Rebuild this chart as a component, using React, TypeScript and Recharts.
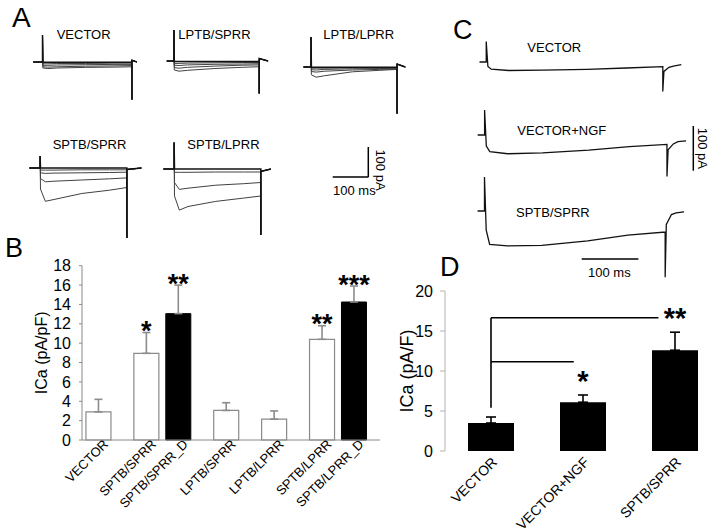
import React from "react"
import { BarChart, Bar, XAxis, YAxis, Cell, ErrorBar, LabelList, Label, ReferenceLine, LineChart, Line } from "recharts"

const FONT = "'Liberation Sans', Arial, Helvetica, sans-serif"

// ---- panel B: ICa density, all constructs
const bNames = ["VECTOR", "SPTB/SPRR", "SPTB/SPRR_D", "LPTB/SPRR", "LPTB/LPRR", "SPTB/LPRR", "SPTB/LPRR_D"]
const bSlot = [1, 4, 6, 9, 12, 15, 17] // category slots, grouped pairs sit closer
const bMean = [2.9, 8.95, 13.05, 3.05, 2.15, 10.4, 14.25]
const bSem = [1.3, 2.15, 2.95, 0.8, 0.85, 1.4, 1.65]
const bStars = ["", "*", "**", "", "", "**", "***"]
const bTicks = [0, 2, 4, 6, 8, 10, 12, 14, 16, 18]

// ---- panel D: NGF comparison
const dNames = ["VECTOR", "VECTOR+NGF", "SPTB/SPRR"]
const dMean = [3.5, 6.1, 12.6]
const dSem = [0.75, 0.9, 2.25]
const dStars = ["", "*", "**"]
const dTicks = [0, 5, 10, 15, 20]
// bracket: stem on VECTOR, arms to the compared bars (x in category units 0..3)
const dStem = { x: 0.5, from: 5.4, to: 16.65 }
const dArms = [
  { to: 2.32, y: 16.65 },
  { to: 1.4, y: 11.15 },
]

// ---- panel A traces (ms, pA); first sweep is the holding/baseline one
const aVectorT = [-26, 0, 0, 1, 15, 40, 120, 200, 250, 250, 250, 264]
const aVector = [
  [0, 0, 90, -1, -1, -1, -1, -1, -1, -125, 6, 0],
  [0, 0, 90, -6, -6, -5, -5, -4, -4, -125, 6, 0],
  [0, 0, 90, -11, -11, -10, -9, -8, -8, -125, 6, 0],
  [0, 0, 90, -16, -17, -16, -14, -13, -12, -125, 6, 0],
  [0, 0, 90, -20, -22, -20, -18, -17, -16, -125, 6, 0],
]
const aLsT = [-21, 0, 0, 1, 15, 40, 120, 200, 250, 250, 250, 276]
const aLs = [
  [0, 0, 103, -2, -2, -2, -2, -2, -2, -108, 8, 0],
  [0, 0, 103, -8, -8, -7, -6, -5, -5, -108, 8, 0],
  [0, 0, 103, -14, -15, -13, -11, -10, -9, -108, 8, 0],
  [0, 0, 103, -22, -24, -21, -17, -14, -13, -108, 8, 0],
  [0, 0, 103, -30, -34, -31, -25, -21, -19, -108, 8, 0],
]
const aLlT = [-22, 0, 0, 1, 15, 40, 120, 200, 250, 250, 250, 274]
const aLl = [
  [0, 0, 100, -1, -1, -1, -1, -1, -1, -155, 10, 0],
  [0, 0, 100, -4, -4, -4, -3, -3, -3, -155, 10, 0],
  [0, 0, 100, -9, -10, -8, -6, -5, -5, -155, 10, 0],
  [0, 0, 100, -15, -17, -14, -10, -8, -7, -155, 10, 0],
  [0, 0, 100, -26, -34, -29, -16, -11, -8, -155, 10, 0],
]
const aSsT = [-31, 0, 0, 1, 15, 40, 120, 200, 250, 250, 250, 292]
const aSs = [
  [0, 0, 39, 0, 0, 0, 0, 0, 0, -233, -5, 0],
  [0, 0, 39, -7, -7, -7, -6, -6, -6, -233, -5, 0],
  [0, 0, 39, -16, -18, -17, -16, -15, -14, -233, -5, 0],
  [0, 0, 39, -35, -46, -44, -40, -36, -33, -233, -5, 0],
  [0, 0, 39, -70, -111, -105, -85, -74, -65, -233, -5, 0],
]
const aSlT = [-31, 0, 0, 1, 15, 40, 120, 200, 250, 250, 250, 279]
const aSl = [
  [0, 0, 88, 0, 0, 0, 0, 0, 0, -220, -8, 0],
  [0, 0, 88, -11, -11, -11, -10, -10, -10, -220, -8, 0],
  [0, 0, 88, -45, -68, -64, -54, -49, -45, -220, -8, 0],
  [0, 0, 88, -90, -137, -125, -108, -97, -90, -220, -8, 0],
]

// ---- panel C traces (ms, pA)
const cT = [-12, 0, 0, 3, 9, 40, 100, 180, 250, 315, 315, 317, 326, 334, 348]
const cVector = [0, 0, 46, -10, -16, -19, -18, -16.5, -13.5, -10.5, -66, -21, -12, -9, -6]
const cNgf = [0, 0, 56, -25, -37, -42, -40, -34, -26, -21, -93, -33, -20, -15, -13]
const cSprr = [0, 0, 76, -43, -75, -78, -77, -67, -54, -47, -148, -30, -8, -4, -2]

const A_STEP = 250
const A_PXPA = 0.3
const A_T: [number, number] = [-35, 300]
const A_I: [number, number] = [-260, 110]
const C_STEP = 315
const C_PXPA = 0.447
const C_T: [number, number] = [-20, 360]
const C_I: [number, number] = [-160, 85]

function TracePanel({ onsetX, endX, baseY, step, pxPerPa, tDom, iDom, t, sweeps, thin, w0, w1 }: any) {
  const pxms = (endX - onsetX) / step
  const left = onsetX + tDom[0] * pxms
  const width = (tDom[1] - tDom[0]) * pxms
  const top = baseY - iDom[1] * pxPerPa
  const height = (iDom[1] - iDom[0]) * pxPerPa
  const rows = t.map((tv: number, i: number) => {
    const r: any = { t: tv }
    sweeps.forEach((s: number[], k: number) => (r["s" + k] = s[i]))
    return r
  })
  const order = sweeps.map((_: any, k: number) => k).reverse()
  return (
    <div style={{ position: "absolute", left, top }}>
      <LineChart width={width} height={height} data={rows} margin={{ top: 0, right: 0, bottom: 0, left: 0 }}>
        <XAxis type="number" dataKey="t" domain={tDom} hide allowDataOverflow />
        <YAxis type="number" domain={iDom} hide allowDataOverflow />
        {order.map((k: number) => (
          <Line
            key={k}
            dataKey={"s" + k}
            type="linear"
            dot={false}
            stroke={k === 0 ? "#111" : thin}
            strokeWidth={k === 0 ? w0 : w1}
            isAnimationActive={false}
          />
        ))}
      </LineChart>
    </div>
  )
}

const bData = bNames.map((name, i) => ({ name, slot: bSlot[i], mean: bMean[i], sem: bSem[i], err: [0, bSem[i]], star: bStars[i] }))
const dData = dNames.map((name, i) => ({ name, mean: dMean[i], sem: dSem[i], err: [0, dSem[i]], star: dStars[i] }))

function starLabel(rows: any[], gap: number, size: number) {
  return (props: any) => {
    const vb = props.viewBox ?? props
    const row = rows.find((r) => r.name === props.value)
    if (!row || !row.star) return null
    const ppu = vb.height / row.mean
    const errTop = vb.y - row.sem * ppu
    const cy = errTop - gap
    return (
      <text x={vb.x + vb.width / 2} y={cy + 0.58 * size} textAnchor="middle" fontSize={size} fontWeight="bold" fontFamily={FONT} fill="#000">
        {row.star}
      </text>
    )
  }
}

function BTick({ x, y, payload }: any) {
  const name = bNames[bSlot.indexOf(payload.value)]
  const ax = x + 10
  const ay = y - 3
  return (
    <text x={ax} y={ay} textAnchor="end" fontSize={13} fontFamily={FONT} fill="#000" transform={`rotate(-45, ${ax}, ${ay})`}>
      {name}
    </text>
  )
}

function DTick({ x, y, payload }: any) {
  const ax = x + 7
  const ay = y + 4
  return (
    <text x={ax} y={ay} textAnchor="end" fontSize={14} fontFamily={FONT} fill="#000" transform={`rotate(-45, ${ax}, ${ay})`}>
      {payload.value}
    </text>
  )
}

function ChartB() {
  return (
    <div style={{ position: "absolute", left: 0, top: 250 }}>
      <BarChart width={400} height={282} data={bData} margin={{ top: 15.7, right: 20, bottom: 0, left: 0 }}>
        <XAxis
          type="number"
          dataKey="slot"
          domain={[-0.06, 18.6]}
          allowDataOverflow
          ticks={bSlot}
          interval={0}
          tick={<BTick />}
          tickLine={false}
          axisLine={{ stroke: "#8a8a8a" }}
          height={92}
        />
        <YAxis
          width={82}
          domain={[0, 18]}
          ticks={bTicks}
          interval={0}
          axisLine={{ stroke: "#8a8a8a" }}
          tickLine={{ stroke: "#8a8a8a" }}
          tickSize={3}
          tickMargin={8}
          tick={{ fill: "#000", fontSize: 16, fontFamily: FONT }}
        >
          <Label
            content={(p: any) => {
              const vb = p.viewBox
              const cx = vb.x + 42
              const cy = vb.y + vb.height / 2
              return (
                <text x={cx} y={cy} textAnchor="middle" dominantBaseline="central" fontSize={16} fontFamily={FONT} transform={`rotate(-90, ${cx}, ${cy})`}>
                  ICa (pA/pF)
                </text>
              )
            }}
          />
        </YAxis>
        <Bar dataKey="mean" barSize={25} isAnimationActive={false}>
          {bData.map((d) =>
            d.name.endsWith("_D") ? (
              <Cell key={d.name} fill="#000" stroke="#000" />
            ) : (
              <Cell key={d.name} fill="#fff" stroke="#8a8a8a" strokeWidth={1.2} />
            )
          )}
          <ErrorBar dataKey="err" width={4} stroke="#8c8c8c" strokeWidth={1.6} direction="y" />
          <LabelList dataKey="name" content={starLabel(bData, 8, 27)} />
        </Bar>
      </BarChart>
    </div>
  )
}

function ChartD() {
  return (
    <div style={{ position: "absolute", left: 360, top: 260 }}>
      <BarChart width={380} height={272} data={dData} margin={{ top: 31, right: 19, bottom: 0, left: 0 }} barCategoryGap="25%">
        <XAxis dataKey="name" axisLine={false} tickLine={false} interval={0} height={81} tick={<DTick />} />
        <XAxis xAxisId="br" type="number" dataKey="sem" domain={[0, 3]} allowDataOverflow hide />
        <YAxis
          width={85}
          domain={[0, 20]}
          ticks={dTicks}
          interval={0}
          axisLine={{ stroke: "#b4b4b4" }}
          tickLine={{ stroke: "#b4b4b4" }}
          tickSize={5}
          tickMargin={7}
          tick={{ fill: "#000", fontSize: 16, fontFamily: FONT }}
        >
          <Label
            content={(p: any) => {
              const vb = p.viewBox
              const cx = vb.x + 46.5
              const cy = vb.y + vb.height / 2
              return (
                <text x={cx} y={cy} textAnchor="middle" dominantBaseline="central" fontSize={18} fontFamily={FONT} transform={`rotate(-90, ${cx}, ${cy})`}>
                  ICa (pA/F)
                </text>
              )
            }}
          />
        </YAxis>
        <Bar dataKey="mean" fill="#000" isAnimationActive={false}>
          <ErrorBar dataKey="err" width={5} stroke="#000" strokeWidth={1.6} direction="y" />
          <LabelList dataKey="name" content={starLabel(dData, 21, 29)} />
        </Bar>
        <ReferenceLine
          xAxisId="br"
          segment={[{ x: dStem.x, y: dStem.from }, { x: dStem.x, y: dStem.to }]}
          stroke="#000"
          strokeWidth={1.6}
          ifOverflow="visible"
        />
        {dArms.map((a, i) => (
          <ReferenceLine
            key={i}
            xAxisId="br"
            segment={[{ x: dStem.x, y: a.y }, { x: a.to, y: a.y }]}
            stroke="#000"
            strokeWidth={1.6}
            ifOverflow="visible"
          />
        ))}
      </BarChart>
    </div>
  )
}

export default function App() {
  const aCommon = { step: A_STEP, pxPerPa: A_PXPA, tDom: A_T, iDom: A_I, thin: "#404040", w0: 1.5, w1: 1 }
  const cCommon = { step: C_STEP, pxPerPa: C_PXPA, tDom: C_T, iDom: C_I, thin: "#111", w0: 1.3, w1: 1.3 }
  const txt = { fontFamily: FONT, fill: "#000" }
  return (
    <div style={{ position: "absolute", left: 0, top: 0, width: 716, height: 532, overflow: "hidden", background: "#fff", fontFamily: FONT }}>
      <TracePanel {...aCommon} onsetX={42.3} endX={131.7} baseY={62.3} t={aVectorT} sweeps={aVector} />
      <TracePanel {...aCommon} onsetX={174} endX={259.3} baseY={61} t={aLsT} sweeps={aLs} />
      <TracePanel {...aCommon} onsetX={310.7} endX={396.7} baseY={66.7} t={aLlT} sweeps={aLl} />
      <TracePanel {...aCommon} onsetX={40} endX={126.7} baseY={168.3} t={aSsT} sweeps={aSs} />
      <TracePanel {...aCommon} onsetX={174} endX={260.7} baseY={169} t={aSlT} sweeps={aSl} />

      <TracePanel {...cCommon} onsetX={486.7} endX={663.3} baseY={62.3} t={cT} sweeps={[cVector]} />
      <TracePanel {...cCommon} onsetX={484.3} endX={666.7} baseY={135} t={cT} sweeps={[cNgf]} />
      <TracePanel {...cCommon} onsetX={484.3} endX={665} baseY={210.7} t={cT} sweeps={[cSprr]} />

      <ChartB />
      <ChartD />

      <svg width={716} height={532} style={{ position: "absolute", left: 0, top: 0, pointerEvents: "none" }}>
        <text x={12} y={27.3} fontSize={28} {...txt}>A</text>
        <text x={5} y={257} fontSize={27} {...txt}>B</text>
        <text x={453} y={39} fontSize={27} {...txt}>C</text>
        <text x={440} y={276} fontSize={27} {...txt}>D</text>

        <text x={56.7} y={39.3} fontSize={13} {...txt}>VECTOR</text>
        <text x={178.3} y={39.3} fontSize={13} {...txt}>LPTB/SPRR</text>
        <text x={323.3} y={39.3} fontSize={13} {...txt}>LPTB/LPRR</text>
        <text x={52.7} y={149} fontSize={13} {...txt}>SPTB/SPRR</text>
        <text x={187.3} y={148.5} fontSize={13} {...txt}>SPTB/LPRR</text>

        <line x1={332.7} y1={177} x2={332.7 + 100 * 0.3576} y2={177} stroke="#000" strokeWidth={1.5} />
        <line x1={368.3} y1={177} x2={368.3} y2={177 - 100 * A_PXPA} stroke="#000" strokeWidth={1.5} />
        <text x={333} y={195} fontSize={13} {...txt}>100 ms</text>
        <text x={380} y={170} fontSize={13} textAnchor="middle" dominantBaseline="central" transform="rotate(90, 380, 170)" {...txt}>100 pA</text>

        <text x={527.3} y={51.7} fontSize={13} {...txt}>VECTOR</text>
        <text x={517.3} y={135} fontSize={13} {...txt}>VECTOR+NGF</text>
        <text x={516} y={216.7} fontSize={13} {...txt}>SPTB/SPRR</text>
        <line x1={693.3} y1={126} x2={693.3} y2={126 + 100 * C_PXPA} stroke="#000" strokeWidth={1.5} />
        <text x={702.5} y={148.4} fontSize={13} textAnchor="middle" dominantBaseline="central" transform="rotate(90, 702.5, 148.4)" {...txt}>100 pA</text>
        <line x1={581.7} y1={259} x2={581.7 + 100 * 0.567} y2={259} stroke="#000" strokeWidth={1.5} />
        <text x={588} y={276.7} fontSize={13} {...txt}>100 ms</text>
      </svg>
    </div>
  )
}
